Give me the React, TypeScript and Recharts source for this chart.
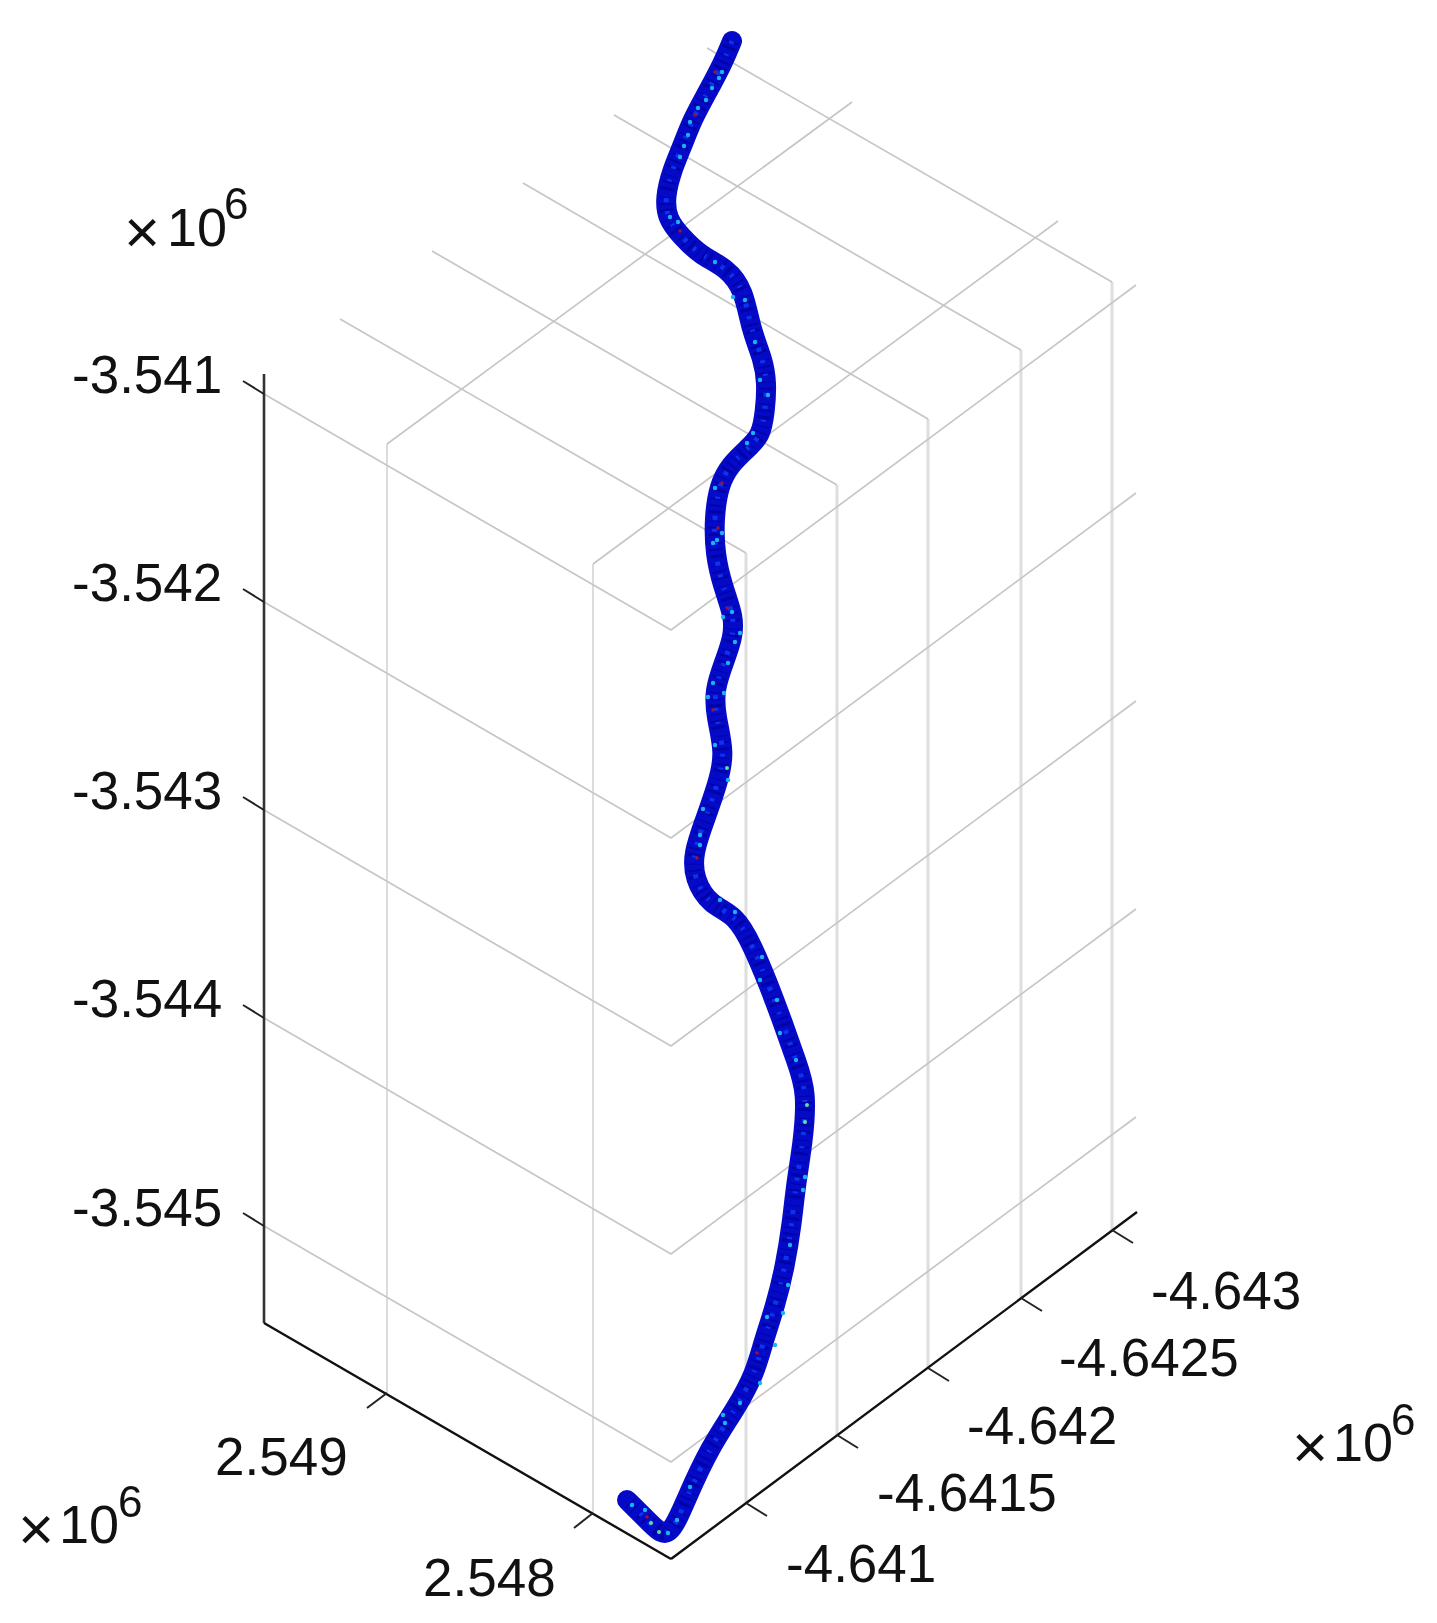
import { ReferenceDot, Scatter, ScatterChart, XAxis, YAxis } from 'recharts';

const WIDTH = 1437;
const HEIGHT = 1623;

const trackX = [732, 723, 707, 692, 682, 672, 665, 667, 682, 700, 727, 744, 751, 763, 767, 765, 761, 747, 730, 719, 714, 715, 723, 734, 733, 725, 714, 716, 725, 718, 705, 693, 694, 710, 736, 753, 768, 783, 797, 807, 803, 796, 792, 785, 775, 763, 755, 737, 710, 687, 669, 652, 627];
const trackY = [41, 63, 93, 120, 147, 170, 197, 219, 237, 255, 268, 290, 330, 359, 383, 412, 436, 449, 465, 485, 518, 555, 587, 617, 637, 660, 690, 717, 753, 783, 820, 853, 879, 905, 915, 947, 983, 1023, 1063, 1092, 1143, 1183, 1223, 1267, 1307, 1343, 1373, 1407, 1447, 1497, 1541, 1525, 1500];

const cyanX = [722, 719, 706, 688, 680, 678, 715, 733, 670, 690, 684, 753, 747, 715, 713, 722, 717, 732, 723, 740, 735, 728, 713, 708, 724, 715, 703, 700, 735, 720, 777, 780, 762, 760, 803, 805, 788, 783, 767, 760, 725, 740, 723, 690, 677, 632, 668, 645, 698, 712, 745, 760, 768, 755, 700, 728, 796, 790, 775];
const cyanY = [72, 78, 100, 135, 157, 222, 262, 297, 217, 122, 146, 433, 443, 488, 543, 533, 540, 612, 617, 633, 642, 663, 683, 697, 693, 745, 809, 845, 912, 900, 1000, 1033, 957, 980, 1190, 1177, 1285, 1313, 1317, 1383, 1423, 1403, 1415, 1487, 1520, 1505, 1533, 1510, 108, 88, 300, 380, 395, 342, 835, 780, 1060, 1245, 1345];
const brightX = [727, 807, 805, 659, 651];
const brightY = [768, 1105, 1122, 1532, 1523];
const redX = [715, 695, 680, 722, 718, 727, 713, 697, 647, 757];
const redY = [72, 115, 231, 483, 528, 608, 710, 858, 1517, 1353];

// grid on the plane across the top, going down-right
const topLines = [
  [340, 319, 746, 553],
  [432, 251, 837, 485],
  [523, 183, 928, 419],
  [614, 115, 1021, 350],
  [707, 48, 1112, 282],
];
// same plane, going up-right
const topCross = [
  [387, 444, 852, 102],
  [593, 564, 1058, 221],
];
// horizontal levels of the z ticks, folded at the back corner
const levelLines = [
  [264, 394, 671, 630, 1136, 285],
  [264, 602, 671, 838, 1136, 493],
  [264, 810, 671, 1046, 1136, 701],
  [264, 1018, 671, 1254, 1136, 909],
  [264, 1226, 671, 1462, 1136, 1117],
];
const leftVerticals = [
  [387, 444, 1393],
  [593, 564, 1513],
];
const rightVerticals = [
  [746, 553, 1503],
  [837, 485, 1435],
  [928, 419, 1368],
  [1021, 350, 1298],
  [1112, 282, 1230],
];

const axisLines = [
  [264, 1323, 671, 1559],
  [671, 1559, 1137, 1212],
];
const tickMarks = [
  [264, 394, 243, 381],
  [264, 602, 243, 589],
  [264, 810, 243, 797],
  [264, 1018, 243, 1005],
  [264, 1226, 243, 1213],
  [387, 1393, 367, 1408],
  [593, 1513, 574, 1528],
  [746, 1503, 767, 1516],
  [837, 1435, 858, 1448],
  [928, 1368, 949, 1381],
  [1021, 1298, 1042, 1311],
  [1112, 1230, 1133, 1243],
];

const zLabels = ['-3.541', '-3.542', '-3.543', '-3.544', '-3.545'];
const zLabelY = [393, 601, 809, 1017, 1226];
const rightLabels = ['-4.643', '-4.6425', '-4.642', '-4.6415', '-4.641'];
const rightLabelX = [1151, 1059, 967, 877, 786];
const rightLabelY = [1309, 1376, 1444, 1511, 1582];
const bottomLabels = ['2.549', '2.548'];
const bottomLabelX = [215, 423];
const bottomLabelY = [1475, 1596];
// ×10^6 exponents: mark centre, start of "10", baseline of "10", start and baseline of "6"
const exponents = [
  { markX: 142, numX: 167, numY: 246, supX: 224, supY: 219 },
  { markX: 36, numX: 59, numY: 1543, supX: 118, supY: 1517 },
  { markX: 1310, numX: 1333, numY: 1461, supX: 1391, supY: 1435 },
];

const FONT = '"Liberation Sans", Arial, sans-serif';
const noDot = () => null;

const pts = (xs: number[], ys: number[]) => xs.map((x, i) => ({ x, y: ys[i] }));
const seg = (s: number[]) => {
  const out = [];
  for (let i = 0; i < s.length; i += 2) out.push({ x: s[i], y: s[i + 1] });
  return out;
};

function segment(key: string, s: number[], stroke: string, strokeWidth: number) {
  return (
    <Scatter
      key={key}
      data={seg(s)}
      shape={noDot}
      line={{ stroke, strokeWidth }}
      isAnimationActive={false}
    />
  );
}

function speckles(key: string, xs: number[], ys: number[], fill: string, r: number) {
  return (
    <Scatter
      key={key}
      data={pts(xs, ys)}
      isAnimationActive={false}
      shape={(p: any) => <circle cx={p.cx} cy={p.cy} r={r} fill={fill} />}
    />
  );
}

function trackLine(key: string, stroke: string, strokeWidth: number, dash?: string) {
  return (
    <Scatter
      key={key}
      data={pts(trackX, trackY)}
      shape={noDot}
      lineJointType="basis"
      line={{ stroke, strokeWidth, strokeLinecap: dash ? 'butt' : 'round', strokeLinejoin: 'round', strokeDasharray: dash }}
      isAnimationActive={false}
    />
  );
}

function label(key: string, x: number, y: number, text: string, size = 53, anchor = 'start') {
  return (
    <ReferenceDot
      key={key}
      x={x}
      y={y}
      r={0}
      ifOverflow="visible"
      shape={(p: any) => (
        <text x={p.cx} y={p.cy} fontFamily={FONT} fontSize={size} textAnchor={anchor} fill="#111">
          {text}
        </text>
      )}
    />
  );
}

export default function App() {
  return (
    <div style={{ position: 'absolute', left: 0, top: 0, width: WIDTH, height: HEIGHT, background: '#fff', filter: 'blur(0.6px)' }}>
      <ScatterChart width={WIDTH} height={HEIGHT} margin={{ top: 0, right: 0, bottom: 0, left: 0 }}>
        <XAxis type="number" dataKey="x" domain={[0, WIDTH]} hide />
        <YAxis type="number" dataKey="y" domain={[0, HEIGHT]} reversed hide />

        {leftVerticals.map((v, i) => segment(`lv${i}`, [v[0], v[1], v[0], v[2]], '#dcdcdc', 2))}
        {rightVerticals.map((v, i) => segment(`rv${i}`, [v[0], v[1], v[0], v[2]], '#dedede', 3))}
        {topLines.map((s, i) => segment(`top${i}`, s, '#c6c6c6', 1.7))}
        {topCross.map((s, i) => segment(`cross${i}`, s, '#c6c6c6', 1.7))}
        {levelLines.map((s, i) => segment(`level${i}`, s, '#c6c6c6', 1.7))}

        {segment('zAxis', [264, 374, 264, 1323], '#333', 2.6)}
        {axisLines.map((s, i) => segment(`axis${i}`, s, '#111', 2.4))}
        {tickMarks.map((s, i) => segment(`tick${i}`, s, '#222', 2))}

        {trackLine('trackBase', '#050ac8', 20)}
        {trackLine('trackDark', '#0004a6', 14, '2 4 3 7 1 5')}
        {trackLine('trackBright', '#0c34ec', 5, '3 11 2 17 4 9')}
        {speckles('cyan', cyanX, cyanY, '#18b4f4', 2.2)}
        {speckles('bright', brightX, brightY, '#5fe0a0', 2)}
        {speckles('red', redX, redY, '#a01030', 1.8)}

        {zLabels.map((t, i) => label(`z${i}`, 72, zLabelY[i], t))}
        {rightLabels.map((t, i) => label(`r${i}`, rightLabelX[i], rightLabelY[i], t))}
        {bottomLabels.map((t, i) => label(`b${i}`, bottomLabelX[i], bottomLabelY[i], t))}
        {exponents.map((e, i) => label(`em${i}`, e.markX, e.numY + 7, '×', 62, 'middle'))}
        {exponents.map((e, i) => label(`en${i}`, e.numX, e.numY, '10', 54))}
        {exponents.map((e, i) => label(`es${i}`, e.supX, e.supY, '6', 44))}
      </ScatterChart>
    </div>
  );
}
